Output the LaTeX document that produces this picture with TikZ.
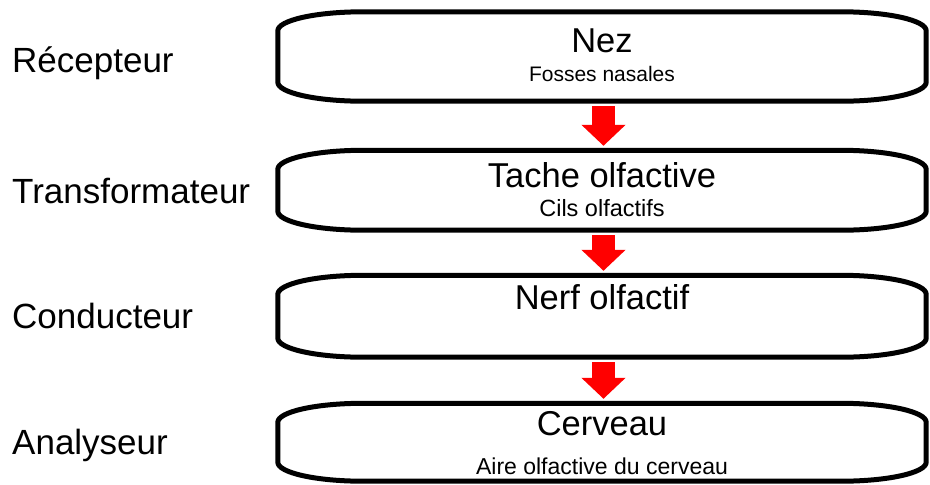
\documentclass[tikz,border=0pt]{standalone}
\usepackage{fontspec}
\setmainfont{Liberation Sans}
\usetikzlibrary{arrows.meta,calc}
\newcommand\roundbox[1]{%
  \draw[outline] ($(#1.north west)+(85,0)$) -- ($(#1.north east)+(-85,0)$)
    .. controls ($(#1.north east)+(-38,0)$) and ($(#1.north east)+(0,8.5)$) .. ($(#1.north east)+(0,19)$)
    -- ($(#1.south east)+(0,-19)$)
    .. controls ($(#1.south east)+(0,-8.5)$) and ($(#1.south east)+(-38,0)$) .. ($(#1.south east)+(-85,0)$)
    -- ($(#1.south west)+(85,0)$)
    .. controls ($(#1.south west)+(38,0)$) and ($(#1.south west)+(0,-8.5)$) .. ($(#1.south west)+(0,-19)$)
    -- ($(#1.north west)+(0,19)$)
    .. controls ($(#1.north west)+(0,8.5)$) and ($(#1.north west)+(38,0)$) .. cycle;}
\begin{document}
\begin{tikzpicture}[x=1pt,y=-1pt,
  lbl/.style={font=\fontsize{35}{38}\selectfont, anchor=base west, inner sep=0pt},
  ttl/.style={font=\fontsize{34.5}{38}\selectfont, anchor=base, inner sep=0pt},
  sub/.style={anchor=base, inner sep=0pt},
  frame/.style={draw=none, inner sep=0pt, minimum width=648pt},
  outline/.style={line width=5pt, line join=round},
  blockarrow/.style={draw=red, line width=23pt, -{Triangle[width=43pt,length=21pt]}}]
\useasboundingbox (0,0) rectangle (930,485);
\fill[white] (0,0) rectangle (930,485);
% frames
\node[frame, minimum height=89pt] (b1) at (602,56.5) {};
\node[frame, minimum height=79.5pt] (b2) at (602,190.25) {};
\node[frame, minimum height=81.5pt] (b3) at (602,316.25) {};
\node[frame, minimum height=77.5pt] (b4) at (602,442.25) {};
\roundbox{b1}
\roundbox{b2}
\roundbox{b3}
\roundbox{b4}
% arrows
\draw[blockarrow] ($(b1.south)+(1.5,5)$) -- ($(b2.north)+(1.5,-4.5)$);
\draw[blockarrow] ($(b2.south)+(1.5,5)$) -- ($(b3.north)+(1.5,-4.5)$);
\draw[blockarrow] ($(b3.south)+(1.5,5)$) -- ($(b4.north)+(1.5,-4.5)$);
% left labels
\node[lbl] (l1) at (12,72) {Récepteur};
\node[lbl] (l2) at (12,203) {Transformateur};
\node[lbl] (l3) at (12,328) {Conducteur};
\node[lbl] (l4) at (12,454) {Analyseur};
% box texts
\node[ttl] (t1) at (602,52) {Nez};
\node[sub, font=\fontsize{21}{24}\selectfont] (s1) at (602,81) {Fosses nasales};
\node[ttl] (t2) at (602,187) {Tache olfactive};
\node[sub, font=\fontsize{23.5}{26}\selectfont] (s2) at (602,216) {Cils olfactifs};
\node[ttl] (t3) at (602,309) {Nerf olfactif};
\node[ttl] (t4) at (602,435) {Cerveau};
\node[sub, font=\fontsize{23}{26}\selectfont] (s4) at (602,474) {Aire olfactive du cerveau};
\end{tikzpicture}
\end{document}
